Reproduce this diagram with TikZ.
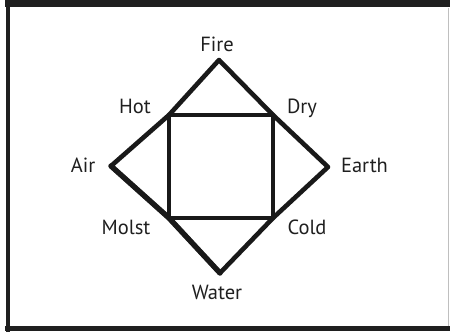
\documentclass[tikz,border=0pt]{standalone}
\usepackage{fontspec}
\setmainfont{PT Sans}
\usepackage{tikz}
\usetikzlibrary{positioning}
\tikzset{
  lbl/.style={font=\fontsize{20.5}{20.5}\selectfont, text=black!88, inner sep=0pt, anchor=base},
  bar/.style={draw=black!90, line width=4.6pt, line join=round, line cap=round},
  rim/.style={draw=black!88}
}

\begin{document}
\begin{tikzpicture}[x=1pt, y=-1pt]
\useasboundingbox (0,0) rectangle (450,332);
% frame
\draw[rim, line width=7pt] (5,3.5) -- (450,3.5);
\draw[rim, line width=4.5pt] (8,0) -- (8,332);
\draw[rim, line width=5pt] (5,328.5) -- (450,328.5);
\draw[black!25, line width=0.8pt] (448.5,8) -- (448.5,326);
% corners
\coordinate (fire)  at (219,60);
\coordinate (earth) at (328,167);
\coordinate (water) at (220,273);
\coordinate (air)   at (111,166);
\coordinate (hot)   at (169,115);
\coordinate (dry)   at (273,115);
\coordinate (cold)  at (273,218);
\coordinate (moist) at (169,218);
% diamond and square
\draw[bar] (fire) -- (dry) -- (earth) -- (cold) -- (water) -- (moist) -- (air) -- (hot) -- cycle;
\draw[bar, line width=5.4pt] (air) -- (moist) -- (water);
\draw[bar, line width=4.3pt] (hot) -- (dry) -- (cold) -- (moist) -- cycle;
% labels
\node[lbl] (fireL)  at (217,51.5)  {Fire};
\node[lbl] (hotL)   at (135,113)   {Hot};
\node[lbl] (dryL)   at (302,113)   {Dry};
\node[lbl] (airL)   at (83,172)    {Air};
\node[lbl] (earthL) at (364.5,172) {Earth};
\node[lbl] (moistL) at (126,234.5) {Molst};
\node[lbl] (coldL)  at (307,234.5) {Cold};
\node[lbl] (waterL) at (217,299.5) {Water};
\end{tikzpicture}
\end{document}
